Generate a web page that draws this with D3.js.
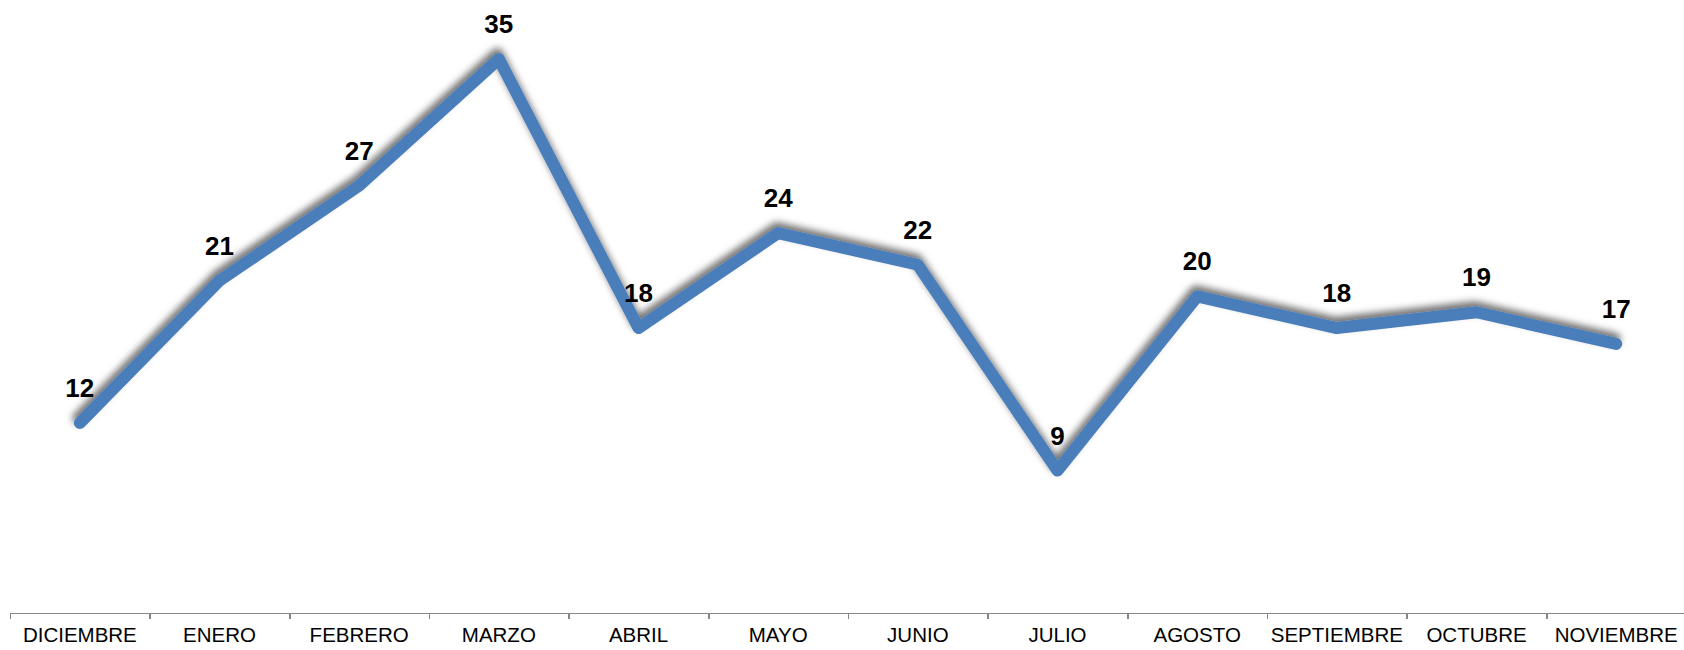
<!DOCTYPE html>
<html lang="en">
<head>
<meta charset="UTF-8">
<script src="https://d3js.org/d3.v7.min.js"></script>
<style>
    body { margin: 0; background: #fff; }
    .xaxis path, .xaxis line { stroke: #868686; stroke-width: 1.5px; shape-rendering: crispEdges; }
    .xaxis text { font-family: "Liberation Sans", Arial, sans-serif; font-size: 20.5px; fill: #000; }
    .lbl { font-family: "Liberation Sans", Arial, sans-serif; font-size: 26px; font-weight: bold; fill: #000; }
</style>
</head>
<body>
<svg width="1684" height="650"></svg>
<script>
var months = ["DICIEMBRE", "ENERO", "FEBRERO", "MARZO", "ABRIL", "MAYO", "JUNIO", "JULIO", "AGOSTO", "SEPTIEMBRE", "OCTUBRE", "NOVIEMBRE"];
var values = [12, 21, 27, 35, 18, 24, 22, 9, 20, 18, 19, 17];

var svg = d3.select("svg");

var x = d3.scaleBand().domain(months).range([10, 1686]).padding(0);
var y = d3.scaleLinear().domain([0, 35]).range([613, 59]);

// drop shadow like the spreadsheet
var defs = svg.append("defs");
var f = defs.append("filter").attr("id", "shadow")
    .attr("x", "-10%").attr("y", "-10%").attr("width", "120%").attr("height", "120%");
f.append("feDropShadow")
    .attr("dx", -1.5).attr("dy", -5)
    .attr("stdDeviation", 3.5)
    .attr("flood-color", "#000")
    .attr("flood-opacity", 0.55);

// tick marks at category boundaries
var idx = d3.scaleLinear().domain([0, months.length]).range(x.range());
svg.append("g")
    .attr("class", "xaxis")
    .attr("transform", "translate(0,613)")
    .call(d3.axisBottom(idx).ticks(months.length).tickSize(6).tickSizeOuter(6).tickFormat(""));

// category labels
var xa = svg.append("g")
    .attr("class", "xaxis")
    .attr("transform", "translate(0,613)")
    .call(d3.axisBottom(x).tickSize(0).tickPadding(14));
xa.select(".domain").remove();

var line = d3.line()
    .x(function(d, i) { return x(months[i]) + x.bandwidth() / 2; })
    .y(function(d) { return y(d); });

svg.append("path")
    .datum(values)
    .attr("d", line)
    .attr("fill", "none")
    .attr("stroke", "#4a7ebb")
    .attr("stroke-width", 12)
    .attr("stroke-linejoin", "round")
    .attr("stroke-linecap", "round")
    .attr("filter", "url(#shadow)");

svg.selectAll(".lbl")
    .data(values)
    .enter().append("text")
    .attr("class", "lbl")
    .attr("text-anchor", "middle")
    .attr("x", function(d, i) { return x(months[i]) + x.bandwidth() / 2; })
    .attr("y", function(d) { return y(d) - 26; })
    .text(function(d) { return d; });
</script>
</body>
</html>
